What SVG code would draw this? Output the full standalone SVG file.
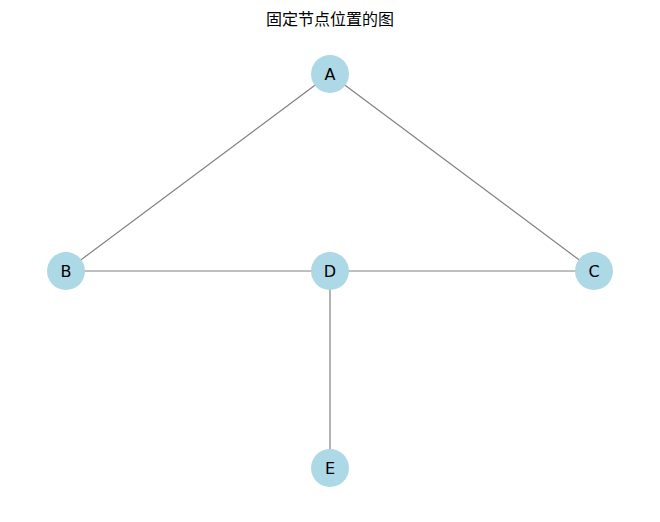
<svg xmlns="http://www.w3.org/2000/svg" width="660" height="522" viewBox="0 0 660 522">
<style>
.edge{stroke:#808080;stroke-width:1.2;fill:none}
.node circle{fill:#ADD8E6}
.node text{font-family:"DejaVu Sans","Liberation Sans",sans-serif;font-size:16px;fill:#000;text-anchor:middle;dominant-baseline:central}
.title{font-family:"Noto Sans CJK SC",sans-serif;font-size:16px;fill:#000;text-anchor:middle}
</style>
<rect width="660" height="522" fill="#fff"/>
<text class="title" x="330" y="25">固定节点位置的图</text>
<g id="edges">
<line class="edge" x1="330" y1="74" x2="66" y2="271"/>
<line class="edge" x1="330" y1="74" x2="594" y2="271"/>
<line class="edge" x1="66" y1="271" x2="330" y2="271"/>
<line class="edge" x1="330" y1="271" x2="594" y2="271"/>
<line class="edge" x1="330" y1="271" x2="330" y2="468"/>
</g>
<g id="node-A" class="node"><circle cx="330" cy="74" r="19"/><text x="330" y="74">A</text></g>
<g id="node-B" class="node"><circle cx="66" cy="271" r="19"/><text x="66" y="271">B</text></g>
<g id="node-D" class="node"><circle cx="330" cy="271" r="19"/><text x="330" y="271">D</text></g>
<g id="node-C" class="node"><circle cx="594" cy="271" r="19"/><text x="594" y="271">C</text></g>
<g id="node-E" class="node"><circle cx="330" cy="468" r="19"/><text x="330" y="468">E</text></g>
</svg>
